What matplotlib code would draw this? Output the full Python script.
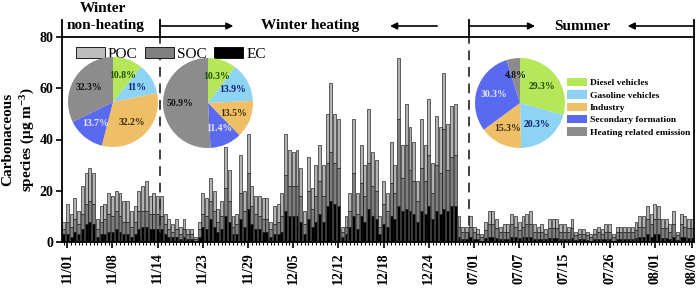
import matplotlib
matplotlib.use('Agg')
import matplotlib.pyplot as plt
from matplotlib.patches import Patch

plt.rcParams['font.family'] = ['Liberation Serif', 'DejaVu Serif']
plt.rcParams['font.weight'] = 'bold'
plt.rcParams['mathtext.fontset'] = 'custom'
plt.rcParams['mathtext.rm'] = 'Liberation Serif'
plt.rcParams['mathtext.bf'] = 'Liberation Serif:bold'
plt.rcParams['mathtext.default'] = 'bf'

# carbonaceous species per sample (ug m-3)
ec = [3, 3, 2, 4, 3, 5, 7, 8, 7, 2, 3, 3, 4,
      4, 5, 4, 3, 3, 2, 3, 5, 6, 6, 5, 5, 5,
      5, 3, 2, 2, 2, 1, 2, 1, 1, 0.5, 2, 6,
      5, 9, 6, 4, 5, 10, 8, 3, 3, 9, 6, 13,
      7, 5, 5, 4, 4, 2, 3, 3, 4, 12, 10, 10,
      10, 8, 3, 9, 6, 8, 11, 8, 14, 16, 15, 14,
      2, 3, 6, 10, 5, 10, 8, 13, 10, 9, 3, 7,
      6, 10, 9, 14, 12, 13, 12, 11, 8, 12, 11, 14,
      9, 12, 11, 13, 12, 14, 14, 2, 1, 1, 2, 1,
      1, 0.5, 1.5, 2, 2, 1.5, 1, 1, 1, 2, 2, 1.5,
      2, 2, 2, 1, 1, 1, 1, 1.5, 1.5, 1.5, 1, 1,
      1, 1.5, 0.8, 1, 1, 0.8, 0.5, 1, 1, 1, 1, 1,
      0.5, 1, 1, 1, 1, 1, 1.5, 2, 2, 3, 2, 3,
      3, 1.5, 1.5, 1, 2, 0.8, 2, 2, 1.5, 1.5]
soc = [2, 5, 4, 5, 4, 6, 8, 8, 8, 3, 5, 6, 7,
       6, 7, 6, 5, 5, 4, 5, 7, 6, 6, 6, 6, 6,
       5, 4, 3, 2, 3, 2, 3, 2, 2, 0.8, 3, 5,
       5, 7, 6, 4, 5, 11, 8, 3, 4, 10, 6, 14,
       7, 6, 5, 5, 5, 3, 4, 5, 6, 14, 12, 12,
       12, 10, 4, 11, 7, 10, 13, 10, 17, 19, 16, 15,
       2, 3, 6, 17, 6, 13, 10, 18, 12, 11, 3, 8,
       6, 13, 10, 34, 13, 25, 16, 13, 8, 17, 13, 20,
       10, 18, 16, 31, 16, 19, 20, 4, 3, 3, 4, 3,
       2, 1.5, 3, 5, 5, 4, 3, 3, 3, 5, 4, 3,
       4, 5, 5, 3, 3, 3, 2, 4, 4, 4, 3, 3,
       3, 4, 2, 2, 2, 2, 1.5, 2, 3, 2, 3, 3,
       1.5, 3, 3, 3, 3, 3, 3, 4, 4, 6, 5, 6,
       6, 4, 4, 3, 5, 2, 5, 4, 4, 4]
poc = [3, 7, 5, 8, 5, 11, 12, 13, 12, 4, 6, 6, 8,
       8, 8, 9, 8, 8, 6, 6, 8, 10, 12, 7, 8, 7,
       8, 4, 4, 3, 4, 3, 4, 2, 2, 0.7, 3, 8,
       7, 9, 8, 5, 6, 16, 12, 4, 4, 15, 8, 15,
       8, 7, 8, 8, 8, 3, 7, 7, 9, 16, 14, 13,
       14, 11, 5, 13, 8, 12, 14, 12, 19, 27, 19, 19,
       2, 4, 7, 21, 8, 15, 12, 21, 13, 12, 4, 9,
       7, 16, 11, 24, 13, 16, 17, 15, 8, 19, 14, 22,
       12, 19, 18, 22, 18, 20, 20, 4, 2, 2, 4, 2,
       2, 1, 3.5, 5, 5, 3.5, 2, 3, 3, 4, 4, 3.5,
       4, 4, 5, 3, 2, 3, 2, 3.5, 3.5, 3.5, 3, 3,
       2, 3.5, 1.2, 2, 2, 1.2, 1, 2, 2, 2, 3, 3,
       1, 2, 2, 2, 2, 2, 3.5, 4, 4, 5, 4, 6,
       5, 3.5, 3.5, 3, 5, 1.2, 4, 4, 3.5, 3.5]

tick_pos = [1, 13, 25, 37, 49, 61, 73, 85, 97, 109, 121, 133, 145, 157, 167]
tick_labels = ['11/01', '11/08', '11/14', '11/23', '11/29', '12/05', '12/12', '12/18',
               '12/24', '07/01', '07/07', '07/15', '07/26', '08/01', '08/06']

sources = ['Diesel vehicles', 'Gasoline vehicles', 'Industry',
           'Secondary formation', 'Heating related emission']
src_colors = ['#b6e65a', '#8dd3f6', '#efbf68', '#5a6af0', '#8c8c8c']
pct_colors = ['#1e5000', '#0a1e6e', '#3a2a00', '#e8e8ff', '#111111']
pie_nonheat = [10.8, 11.0, 32.2, 13.7, 32.3]
pie_heat = [10.3, 13.9, 13.5, 11.4, 50.9]
pie_summer = [29.3, 20.3, 15.3, 30.3, 4.8]

x = list(range(len(ec)))
base2 = [a + b for a, b in zip(ec, soc)]

W, H = 700, 294
fig = plt.figure(figsize=(7, 2.94), dpi=100)
ax = fig.add_axes([62 / W, 1 - 242 / H, (694 - 62) / W, (242 - 37) / H])

bw = 0.78
ax.bar(x, ec, bw, color='black', edgecolor='black', linewidth=0.4, label='EC')
ax.bar(x, soc, bw, bottom=ec, color='#7f7f7f', edgecolor='black', linewidth=0.4, label='SOC')
ax.bar(x, poc, bw, bottom=base2, color='#b3b3b3', edgecolor='black', linewidth=0.4, label='POC')

ax.set_xlim(-0.4, 167.4)
ax.set_ylim(0, 80)
ax.set_yticks([0, 20, 40, 60, 80])
ax.set_xticks(tick_pos)
ax.set_xticklabels(tick_labels, rotation=90, fontsize=10, fontweight='bold')
ax.set_xticks(x, minor=True)
ax.tick_params(axis='x', which='major', length=4, width=1.2)
ax.tick_params(axis='x', which='minor', length=2, width=0.8)
ax.tick_params(axis='y', length=4, width=1.2, labelsize=10, pad=2)
for s in ax.spines.values():
    s.set_linewidth(1.3)
ax.set_ylabel('Carbonaceous\nspecies (\u03bcg m$^{-3}$)', fontsize=11, fontweight='bold',
              linespacing=1.3)
ax.yaxis.set_label_coords(-0.04, 0.5)

for xd in [25.6, 107.6]:
    ax.axvline(xd, color='#404040', lw=1.4, ls=(0, (5, 3.5)), zorder=0.5)

hnd = [Patch(facecolor='#bdbdbd', edgecolor='black', lw=0.6),
       Patch(facecolor='#808080', edgecolor='black', lw=0.6),
       Patch(facecolor='black', edgecolor='black', lw=0.6)]
leg = ax.legend(hnd, ['POC', 'SOC', 'EC'], ncol=3, loc='upper left', bbox_to_anchor=(0.0, 1.02),
                frameon=False, prop={'family': 'Liberation Serif', 'size': 11, 'weight': 'normal'},
                handlelength=1.9, handleheight=0.8, handletextpad=0.2, columnspacing=0.5)
leg.set_zorder(5)

# header with period arrows
hax = fig.add_axes([62 / W, 1 - 37 / H, (694 - 62) / W, 37 / H], sharex=ax)
hax.set_ylim(0, 1)
hax.axis('off')
ya = (37 - 26) / 37
for xd in [-0.4, 25.6, 107.6, 167.4]:
    hax.plot([xd, xd], [0, (37 - 20) / 37], color='black', lw=1.3, clip_on=False)
arw = dict(arrowstyle='-|>', color='black', lw=1.2, mutation_scale=10, shrinkA=0, shrinkB=0)
hax.annotate('', xy=(45.1, ya), xytext=(25.6, ya), arrowprops=arw)
hax.annotate('', xy=(86.7, ya), xytext=(99.2, ya), arrowprops=arw)
hax.annotate('', xy=(125.2, ya), xytext=(107.6, ya), arrowprops=arw)
hax.annotate('', xy=(149.8, ya), xytext=(167.4, ya), arrowprops=arw)
hax.text(65.6, ya, 'Winter heating', ha='center', va='center', fontsize=11, fontweight='bold')
hax.text(137.7, ya, 'Summer', ha='center', va='center', fontsize=11, fontweight='bold')
hax.text(11.2, ya, 'non-heating', ha='center', va='center', fontsize=11, fontweight='bold')
hax.text(10.6, (37 - 8) / 37, 'Winter', ha='center', va='center', fontsize=11, fontweight='bold', clip_on=False)

# source apportionment pies
def draw_pie(cx, cy, vals):
    r = 45
    pa = fig.add_axes([(cx - r) / W, 1 - (cy + r) / H, 2 * r / W, 2 * r / H])
    wedges, _, autot = pa.pie(vals, colors=src_colors, startangle=90, counterclock=False,
                              autopct=lambda p: ('%.1f%%' % p) if abs(p - round(p)) > 0.05 else '%d%%' % round(p),
                              pctdistance=0.62, radius=1, wedgeprops=dict(linewidth=0))
    for t, c in zip(autot, pct_colors):
        t.set_color(c)
        t.set_fontsize(7)
        t.set_fontweight('bold')
    pa.set_xlim(-1, 1)
    pa.set_ylim(-1, 1)
    return pa

draw_pie(113, 102, pie_nonheat)
draw_pie(208, 103, pie_heat)
draw_pie(520, 103, pie_summer)

src_h = [Patch(facecolor=c, edgecolor='none') for c in src_colors]
fig.legend(src_h, sources, loc='upper left', bbox_to_anchor=(567 / W, 1 - 78 / H), frameon=False,
           prop={'family': 'Liberation Serif', 'size': 6.8, 'weight': 'bold'},
           handlelength=2.1, handleheight=1.0, handletextpad=0.35, labelspacing=0.3,
           borderaxespad=0, borderpad=0)

fig.savefig('out.png', dpi=100)
